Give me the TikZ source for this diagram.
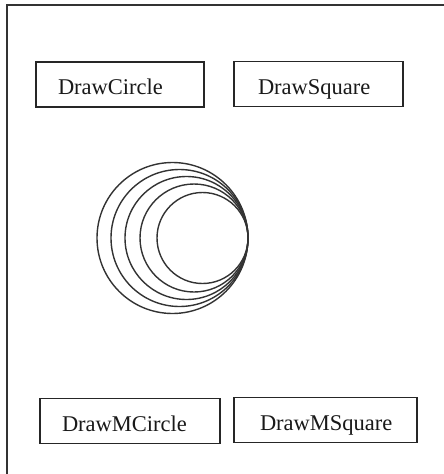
\documentclass[tikz,border=0pt]{standalone}
\usepackage{fontspec}
\setmainfont{Liberation Serif}
\begin{document}
\begin{tikzpicture}[x=1pt,y=-1pt,
  labelbox/.style={draw=black!85, line width=1.3pt, rectangle, inner ysep=0pt,
    minimum height=45pt, text height=20pt, text depth=0pt, align=left,
    font=\fontsize{22.5}{26}\selectfont, text=black!90},
  ring/.style={draw=black!80, line width=1.4pt}]
\useasboundingbox (0,0) rectangle (444,474);
% frame (top and left edges only visible)
\draw[line width=2pt, black!80] (7,480) -- (7,5) -- (450,5);
\node[labelbox, inner xsep=22pt, text width=124pt] (dc) at (120,84.5) {DrawCircle};
\node[labelbox, inner xsep=24pt, text width=121pt] (ds) at (318.5,84) {DrawSquare};
\node[labelbox, inner xsep=22pt, text width=136pt] (dmc) at (130,421) {DrawMCircle};
\node[labelbox, inner xsep=26pt, text width=131pt] (dms) at (325.5,420) {DrawMSquare};
% nested tangent circles
\foreach \r in {75.5,68.5,61.5,54,45.5} {
  \draw[ring] (248-\r,238) circle[radius=\r];
}
\end{tikzpicture}
\end{document}
